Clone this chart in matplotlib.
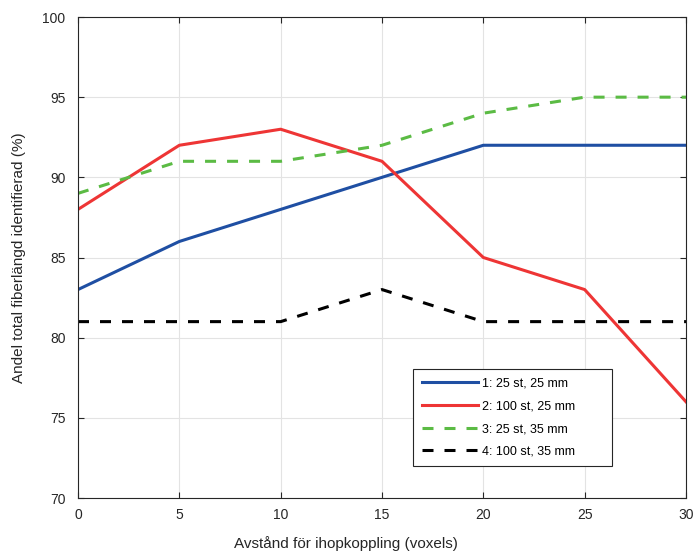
import matplotlib
matplotlib.use("Agg")
import matplotlib.pyplot as plt
from matplotlib import rc

rc('font', family=['Liberation Sans', 'DejaVu Sans'], size=10)

distance = [0, 5, 10, 15, 20, 25, 30]
s1 = [83, 86, 88, 90, 92, 92, 92]
s2 = [88, 92, 93, 91, 85, 83, 76]
s3 = [89, 91, 91, 92, 94, 95, 95]
s4 = [81, 81, 81, 83, 81, 81, 81]
labels = ['1: 25 st, 25 mm', '2: 100 st, 25 mm', '3: 25 st, 35 mm', '4: 100 st, 35 mm']

W, H = 694, 556
L, R, T, B = 78, 686, 17, 498
fig = plt.figure(figsize=(W / 100, H / 100), dpi=100)
ax = fig.add_axes([L / W, 1 - B / H, (R - L) / W, (B - T) / H])

dash = (0, (3.6, 3.6))
ax.plot(distance, s1, color='#1f4fa3', lw=2.2, label=labels[0])
ax.plot(distance, s2, color='#ee3535', lw=2.2, label=labels[1])
ax.plot(distance, s3, color='#5bbb44', lw=2.2, ls=dash, label=labels[2])
ax.plot(distance, s4, color='black', lw=2.2, ls=dash, label=labels[3])

ax.set_xlim(0, 30)
ax.set_ylim(70, 100)
ax.set_xticks(range(0, 31, 5))
ax.set_yticks(range(70, 101, 5))
ax.grid(True, color='#e3e3e3', lw=0.8)
ax.set_axisbelow(True)
ax.tick_params(direction='in', length=4.5, width=0.8, pad=9,
               colors='#262626', labelcolor='#262626', top=True, right=True)
ax.tick_params(axis='x', pad=7)
for sp in ax.spines.values():
    sp.set_color('#262626')
    sp.set_linewidth(0.8)

aw, ah = R - L, B - T
ax.set_xlabel('Avstånd för ihopkoppling (voxels)', color='#262626', fontsize=11)
ax.set_ylabel('Andel total fiberlängd identifierad (%)', color='#262626', fontsize=11)
ax.xaxis.set_label_coords((346 - L) / aw, -(536 - B) / ah)
ax.yaxis.set_label_coords(-(L - 26) / aw, 0.5)

x0 = (413 - L) / aw
x1 = (612 - L) / aw
y1 = (B - 369) / ah
leg = ax.legend(loc='upper left', bbox_to_anchor=(x0, y1 - 0.3, x1 - x0, 0.3), mode='expand',
                borderaxespad=0, fancybox=False, edgecolor='#262626', framealpha=1, fontsize=9,
                handlelength=4.5, handletextpad=0.35, borderpad=0.7, labelspacing=0.85)
leg.get_frame().set_linewidth(0.8)

plt.savefig('out.png', dpi=100)
